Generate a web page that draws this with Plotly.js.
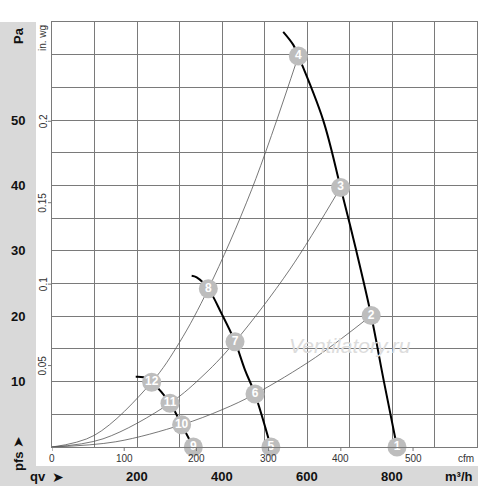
<!DOCTYPE html>
<html>
<head>
<meta charset="utf-8">
<script src="https://cdn.plot.ly/plotly-3.0.1.min.js"></script>
<style>html,body{margin:0;padding:0;background:#fff;}#chart{width:500px;height:487px;}</style>
</head>
<body>
<div id="chart"></div>
<script>
// Fan characteristic curves (q in m³/h, p in Pa)
const fanHighQ = [544, 567.8, 579.6, 638, 679, 716, 751, 781, 811.8];
const fanHighP = [63.5, 61.5, 59.8, 50, 39.7, 30, 20.1, 10, 0];
const fanMidQ = [328.6, 340.5, 367.8, 399, 430.6, 454, 477.6, 515];
const fanMidP = [26.2, 25.95, 24.2, 20.4, 16.1, 11.8, 8.1, 0];
const fanLowQ = [197, 215, 234.5, 277.6, 305, 332.5];
const fanLowP = [10.75, 10.66, 9.9, 6.7, 3.4, 0];

// System curves
const sysAQ = [0, 100, 234.5, 300, 367.8, 470, 579.6];
const sysAP = [0, 1.8, 9.9, 16.0, 24.2, 39.4, 59.8];
const sysBQ = [0, 120, 277.6, 360, 430.6, 560, 679];
const sysBP = [0, 1.25, 6.7, 11.2, 16.1, 27.2, 39.7];
const sysCQ = [0, 150, 305, 400, 477.6, 620, 751];
const sysCP = [0, 0.8, 3.4, 5.7, 8.1, 13.7, 20.1];

// Numbered operating points
const pointQ = [811.8, 751, 679, 579.6, 515, 477.6, 430.6, 367.8, 332.5, 305, 277.6, 234.5];
const pointP = [0, 20.1, 39.7, 59.8, 0, 8.1, 16.1, 24.2, 0, 3.4, 6.7, 9.9];
const pointLabels = ['1','2','3','4','5','6','7','8','9','10','11','12'];

// Tick labels
const paTicks = [10, 20, 30, 40, 50];
const m3hTicks = [200, 400, 600, 800];
const cfmTicks = [0, 100, 200, 300, 400, 500];
const inwgTicks = [0.05, 0.1, 0.15, 0.2];
const inwgLabels = ['0.05', '0.1', '0.15', '0.2'];

const CFM_TO_M3H = 1.699;
const INWG_TO_PA = 249.09;
const FONT = 'Liberation Sans, Arial, sans-serif';

const traces = [];
function sysTrace(q, p) {
  return {x: q, y: p, mode: 'lines', line: {color: '#555', width: 0.8, shape: 'spline', smoothing: 1}, hoverinfo: 'skip', showlegend: false, cliponaxis: false};
}
function fanTrace(q, p) {
  return {x: q, y: p, mode: 'lines', line: {color: '#000', width: 2, shape: 'spline', smoothing: 1}, hoverinfo: 'skip', showlegend: false, cliponaxis: false};
}
traces.push(sysTrace(sysAQ, sysAP), sysTrace(sysBQ, sysBP), sysTrace(sysCQ, sysCP));
traces.push(fanTrace(fanHighQ, fanHighP), fanTrace(fanMidQ, fanMidP), fanTrace(fanLowQ, fanLowP));
traces.push({
  x: pointQ, y: pointP, mode: 'markers+text', text: pointLabels,
  textposition: 'middle center',
  textfont: {family: FONT, size: 12, color: '#fff', weight: 'bold'},
  marker: {size: 19, color: '#bdbdbd', line: {width: 0}},
  cliponaxis: false, showlegend: false, hoverinfo: 'skip'
});

const px2paperX = px => (px - 52) / 425;
const px2paperY = py => (447 - py) / 425;

const shapes = [
  {type: 'rect', xref: 'paper', yref: 'paper', x0: px2paperX(0), x1: px2paperX(36), y0: px2paperY(486), y1: px2paperY(22), fillcolor: '#d9d9d9', line: {width: 0}, layer: 'above'},
  {type: 'rect', xref: 'paper', yref: 'paper', x0: px2paperX(0), x1: px2paperX(478), y0: px2paperY(486), y1: px2paperY(466), fillcolor: '#d9d9d9', line: {width: 0}, layer: 'above'}
];
cfmTicks.forEach(c => {
  shapes.push({type: 'line', xref: 'x', yref: 'paper', x0: c * CFM_TO_M3H, x1: c * CFM_TO_M3H, y0: 0, y1: px2paperY(451), line: {color: '#777', width: 1}});
});
inwgTicks.forEach(v => {
  shapes.push({type: 'line', xref: 'paper', yref: 'y', x0: px2paperX(48), x1: 0, y0: v * INWG_TO_PA, y1: v * INWG_TO_PA, line: {color: '#777', width: 1}});
});

const annotations = [];
function ann(o) { annotations.push(Object.assign({showarrow: false, xanchor: 'center', yanchor: 'middle'}, o)); }
const boldFont = {family: FONT, size: 13, color: '#111', weight: 'bold'};
const arrowFont = {family: 'DejaVu Sans', size: 14, color: '#111'};
paTicks.forEach(v => ann({xref: 'paper', yref: 'y', x: px2paperX(18), y: v, text: String(v), font: boldFont}));
ann({xref: 'paper', yref: 'paper', x: px2paperX(18), y: px2paperY(36), text: 'Pa', textangle: -90, font: boldFont});
ann({xref: 'paper', yref: 'paper', x: px2paperX(18), y: px2paperY(461), text: 'pfs', textangle: -90, font: boldFont});
ann({xref: 'paper', yref: 'paper', x: px2paperX(18), y: px2paperY(442), text: '➤', textangle: -90, font: arrowFont});
ann({xref: 'paper', yref: 'paper', x: px2paperX(38), y: px2paperY(476), text: 'qv', font: boldFont});
ann({xref: 'paper', yref: 'paper', x: px2paperX(58), y: px2paperY(477), text: '➤', font: arrowFont});
m3hTicks.forEach(v => ann({xref: 'x', yref: 'paper', x: v, y: px2paperY(476), text: String(v), font: boldFont}));
ann({xref: 'paper', yref: 'paper', x: px2paperX(459), y: px2paperY(476), text: 'm³/h', font: boldFont});
const smallFont = {family: FONT, size: 10, color: '#333'};
cfmTicks.forEach(c => ann({xref: 'x', yref: 'paper', x: c * CFM_TO_M3H, y: px2paperY(458), text: String(c), font: smallFont}));
ann({xref: 'paper', yref: 'paper', x: px2paperX(466), y: px2paperY(458), text: 'cfm', font: smallFont});
inwgTicks.forEach((v, i) => ann({xref: 'paper', yref: 'y', x: px2paperX(43), y: v * INWG_TO_PA, text: inwgLabels[i], textangle: -90, font: smallFont}));
ann({xref: 'paper', yref: 'paper', x: px2paperX(43), y: px2paperY(38), text: 'in. wg', textangle: -90, font: smallFont});
ann({xref: 'paper', yref: 'paper', x: px2paperX(350), y: px2paperY(345), text: '<i>Ventilatory.ru</i>', font: {family: FONT, size: 21, color: '#dcdcdc'}});

const layout = {
  width: 500, height: 487,
  margin: {l: 52, r: 23, t: 22, b: 40, pad: 0},
  paper_bgcolor: '#fff', plot_bgcolor: '#fff',
  showlegend: false,
  xaxis: {range: [0, 1000], dtick: 100, tick0: 0, showticklabels: false, ticks: '', showgrid: true, gridcolor: '#7a7a7a', gridwidth: 1, zeroline: false, showline: true, mirror: true, linecolor: '#7a7a7a', linewidth: 1, fixedrange: true},
  yaxis: {range: [0, 65], dtick: 5, tick0: 0, showticklabels: false, ticks: '', showgrid: true, gridcolor: '#7a7a7a', gridwidth: 1, zeroline: false, showline: true, mirror: true, linecolor: '#7a7a7a', linewidth: 1, fixedrange: true},
  shapes: shapes,
  annotations: annotations
};

Plotly.newPlot('chart', traces, layout, {displayModeBar: false, staticPlot: true});
</script>
</body>
</html>
